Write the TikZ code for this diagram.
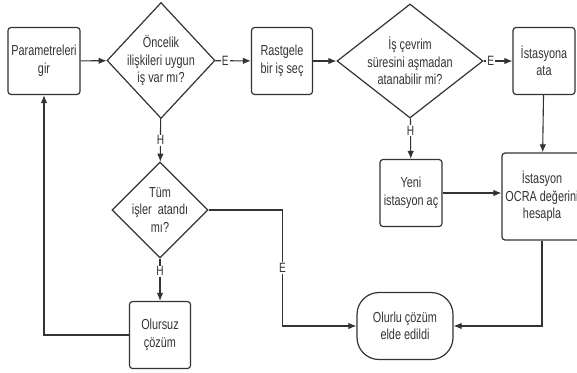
\documentclass[tikz,border=0pt]{standalone}
\usepackage{fontspec}
\setmainfont{Liberation Sans}[FakeStretch=0.75]
\usetikzlibrary{shapes.geometric,arrows.meta}

\begin{document}
\begin{tikzpicture}[x=1pt,y=-1pt,
    every node/.style={font=\fontsize{14.5}{17.5}\selectfont, text=black!80, align=center},
    box/.style={draw=black!80, line width=1.2pt, rounded corners=3pt, minimum width=61pt, minimum height=67pt, inner sep=1pt},
    decision/.style={draw=black!80, line width=1.2pt, shape=diamond, inner sep=-40pt},
    lbl/.style={fill=white, inner sep=1pt, font=\fontsize{13.5}{13.5}\selectfont},
    conn/.style={draw=black!80, line width=1.1pt, -{Latex[length=8pt,width=6.5pt]}}]
    \useasboundingbox (0,0) rectangle (577,372);
    % top row
    \node [box, minimum width=72pt] (param) at (44,61) {Parametreleri\\gir};
    \node [decision, minimum width=108pt, minimum height=116pt] (oncelik) at (161,60.5) {Öncelik\\ilişkileri uygun\\iş var mı?};
    \node [box] (rastgele) at (282,61) {Rastgele\\bir iş seç};
    \node [decision, minimum width=146pt, minimum height=114pt] (cevrim) at (410,61) {İş çevrim\\süresini aşmadan\\atanabilir mi?};
    \node [box, minimum width=62pt] (istasyona) at (544,61) {İstasyona\\ata};
    % middle
    \node [decision, minimum width=96pt, minimum height=96pt] (tum) at (160,210) {Tüm\\işler~ atandı\\mı?};
    \node [box, minimum width=62pt] (yeni) at (411,193) {Yeni\\istasyon aç};
    \node [box, minimum width=80pt, minimum height=87pt] (ocra) at (542,196.5) {İstasyon\\OCRA değerini\\hesapla};
    % bottom
    \node [box] (olursuz) at (160,335) {Olursuz\\çözüm};
    \node [box, rounded corners=22pt, minimum width=96pt] (olurlu) at (405,326) {Olurlu çözüm\\elde edildi};
    % connectors
    \draw [conn] (param) -- (oncelik);
    \draw [conn] (oncelik) -- node [lbl, pos=0.28] {E} (rastgele);
    \draw [conn] (rastgele) -- (cevrim);
    \draw [conn] (cevrim) -- node [lbl, pos=0.25] {E} (istasyona);
    \draw [conn] (oncelik) -- node [lbl, pos=0.5] {H} (tum);
    \draw [conn] (cevrim) -- node [lbl, pos=0.3] {H} (yeni);
    \draw [conn] (istasyona) -- (ocra);
    \draw [conn] (yeni.east) -- (yeni.east -| ocra.west);
    \draw [conn] (ocra.south) |- (olurlu.east);
    \draw [conn] (tum.east) -- ++(74,0) |- node [lbl, pos=0.25] {E} (olurlu.west);
    \draw [conn] (tum) -- node [lbl, pos=0.3] {H} (olursuz);
    \draw [conn] (olursuz.west) -| (param.south);
\end{tikzpicture}
\end{document}
